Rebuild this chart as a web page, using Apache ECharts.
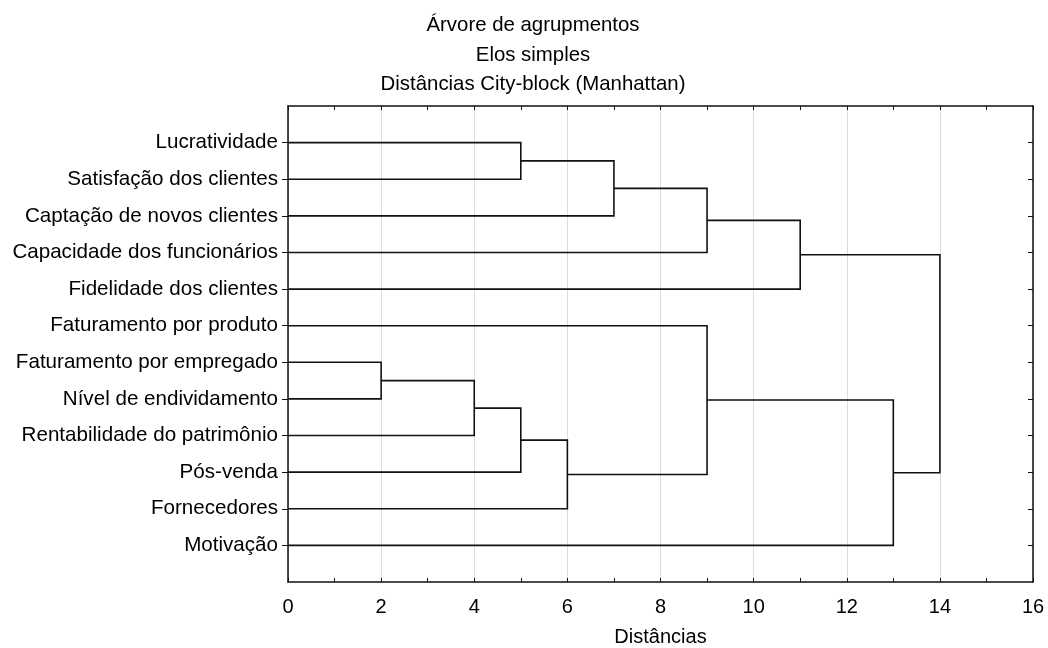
<!DOCTYPE html>
<html>
<head>
<meta charset="utf-8">
<script src="https://cdn.jsdelivr.net/npm/echarts@6/dist/echarts.min.js"></script>
<style>
  html, body { margin: 0; padding: 0; background: #fff; }
  #chart { width: 1048px; height: 648px; }
</style>
</head>
<body>
<div id="chart"></div>
<script>
// folhas, de cima para baixo
const labels = [
  'Lucratividade', 'Satisfação dos clientes', 'Captação de novos clientes',
  'Capacidade dos funcionários', 'Fidelidade dos clientes', 'Faturamento por produto',
  'Faturamento por empregado', 'Nível de endividamento', 'Rentabilidade do patrimônio',
  'Pós-venda', 'Fornecedores', 'Motivação'
]

// fusões: índices < 12 são folhas, >= 12 são grupos criados na ordem abaixo
const mergeLeft   = [0, 12, 13, 14, 6, 16, 17, 18, 5, 20, 15]
const mergeRight  = [1, 2, 3, 4, 7, 8, 9, 10, 19, 11, 21]
const mergeHeight = [5, 7, 9, 11, 2, 4, 5, 6, 9, 13, 14]

const xTicks = [0, 2, 4, 6, 8, 10, 12, 14, 16]

// posição de cada nó: folha em (0, i+1), grupo em (altura, meio dos filhos)
const nodes = labels.map((_, i) => [0, i + 1])
const links = []
mergeHeight.forEach((h, k) => {
  const a = nodes[mergeLeft[k]]
  const b = nodes[mergeRight[k]]
  links.push({ coords: [[a[0], a[1]], [h, a[1]], [h, b[1]], [b[0], b[1]]] })
  nodes.push([h, (a[1] + b[1]) / 2])
})

const leafPos = labels.map((_, i) => i + 1)
const font = 'Liberation Sans, Arial, sans-serif'
const ink = '#111'

const chart = echarts.init(document.getElementById('chart'))

const xBase = {
  type: 'value', min: xTicks[0], max: xTicks[xTicks.length - 1], interval: 2,
  axisLine: { show: true, onZero: false, lineStyle: { color: ink, width: 1.5 } },
  axisTick: { show: true, inside: true, length: 4, lineStyle: { color: ink } },
  minorTick: { show: true, splitNumber: 2, length: 4, lineStyle: { color: ink } }
}
const yBase = {
  type: 'value', min: 0, max: 13, inverse: true,
  splitLine: { show: false },
  axisLine: { show: true, onZero: false, lineStyle: { color: ink, width: 1.5 } }
}

chart.setOption({
  backgroundColor: '#fff',
  animation: false,
  textStyle: { fontFamily: font },
  title: {
    text: 'Árvore de agrupmentos\nElos simples\nDistâncias City-block (Manhattan)',
    left: 528, top: 6, textAlign: 'center',
    textStyle: { fontFamily: font, fontSize: 20.4, fontWeight: 'normal', color: '#000', lineHeight: 29.5 }
  },
  grid: { left: 288, right: 15, top: 106, bottom: 66, containLabel: false, outerBoundsMode: 'none' },
  xAxis: [
    { ...xBase, position: 'bottom',
      name: 'Distâncias', nameLocation: 'middle', nameGap: 45,
      nameTextStyle: { fontFamily: font, fontSize: 20, color: '#000' },
      axisLabel: { color: '#000', fontSize: 20, margin: 15, fontFamily: font },
      splitLine: { show: true, lineStyle: { color: '#dcdcdc', width: 1 } } },
    { ...xBase, position: 'top', axisLabel: { show: false }, splitLine: { show: false } }
  ],
  yAxis: [
    { ...yBase, position: 'left',
      axisTick: { show: true, inside: false, length: 6, customValues: leafPos, lineStyle: { color: ink } },
      axisLabel: { color: '#000', fontSize: 20.6, margin: 10, fontFamily: font,
        customValues: leafPos, formatter: (v) => labels[v - 1] || '' } },
    { ...yBase, position: 'right',
      axisTick: { show: true, inside: true, length: 5, customValues: leafPos, lineStyle: { color: ink } },
      axisLabel: { show: false } }
  ],
  series: [
    { type: 'lines', coordinateSystem: 'cartesian2d', polyline: true,
      xAxisIndex: 0, yAxisIndex: 0, silent: true,
      lineStyle: { color: ink, width: 1.6, opacity: 1 }, data: links }
  ]
})
</script>
</body>
</html>
